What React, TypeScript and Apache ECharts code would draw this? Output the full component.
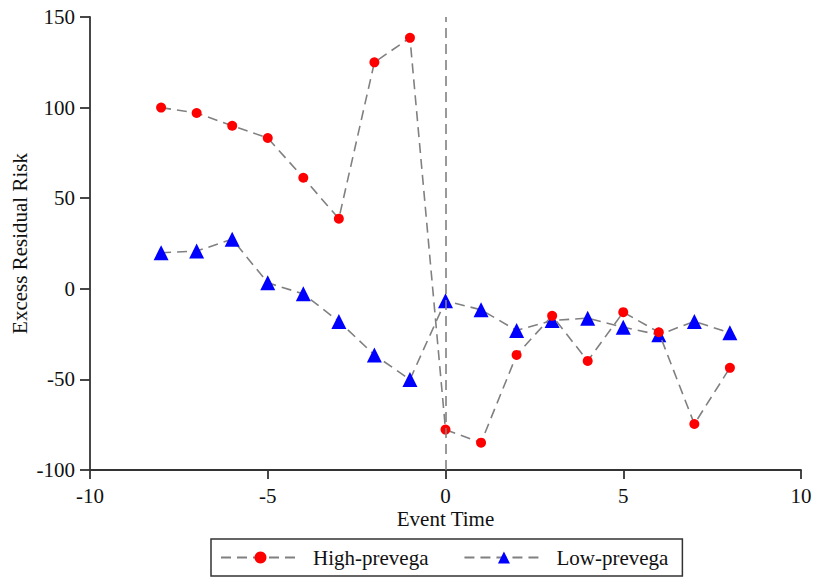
import React, { useEffect, useRef } from "react";
import * as echarts from "echarts";

const eventTimes = [-8, -7, -6, -5, -4, -3, -2, -1, 0, 1, 2, 3, 4, 5, 6, 7, 8];
const highPrevega = [100, 97, 90, 83.2, 61.3, 38.7, 125, 138.5, -77.7, -84.9, -36.5, -14.9, -39.8, -12.9, -24, -74.6, -43.6];
const lowPrevega = [19.9, 20.8, 27.4, 3.3, -2.8, -18, -36.5, -50.1, -6.6, -11.6, -23, -17.5, -16.2, -21.2, -25.4, -18, -24.3];
const seriesNames = ["High-prevega", "Low-prevega"];

const FONT = "Liberation Serif";

export default function App() {
  const ref = useRef<HTMLDivElement>(null);
  useEffect(() => {
    if (!ref.current) return;
    const chart = echarts.init(ref.current, undefined, { renderer: "svg" });
    const dash = [10, 6];
    chart.setOption({
      animation: false,
      textStyle: { fontFamily: FONT },
      grid: { left: 90, right: 13, top: 17, bottom: 111, containLabel: false, outerBoundsMode: "none" },
      xAxis: {
        type: "value",
        min: -10,
        max: 10,
        interval: 5,
        name: "Event Time",
        nameLocation: "middle",
        nameGap: 38,
        nameMoveOverlap: false,
        nameTextStyle: { fontFamily: FONT, fontSize: 21, color: "#111" },
        axisLine: { show: true, onZero: false, lineStyle: { color: "#333", width: 1.8 } },
        axisTick: { show: true, length: 9, lineStyle: { color: "#333", width: 1.8 } },
        axisLabel: { fontFamily: FONT, fontSize: 21, color: "#111", margin: 15 },
        splitLine: { show: false },
      },
      yAxis: {
        type: "value",
        min: -100,
        max: 150,
        interval: 50,
        name: "Excess Residual Risk",
        nameLocation: "middle",
        nameGap: 60,
        nameMoveOverlap: false,
        nameRotate: 90,
        nameTextStyle: { fontFamily: FONT, fontSize: 21, color: "#111" },
        axisLine: { show: true, onZero: false, lineStyle: { color: "#333", width: 1.8 } },
        axisTick: { show: true, length: 10, lineStyle: { color: "#333", width: 1.8 } },
        axisLabel: { fontFamily: FONT, fontSize: 21, color: "#111", margin: 15 },
        splitLine: { show: false },
      },
      legend: {
        left: 211,
        top: 539,
        data: seriesNames,
        borderColor: "#333",
        borderWidth: 1.5,
        borderRadius: 0,
        padding: [8, 14, 8, 9],
        itemWidth: 79,
        itemHeight: 15,
        itemGap: 35,
        textStyle: { fontFamily: FONT, fontSize: 21, color: "#111", padding: [0, 0, 0, 8] },
      },
      series: [
        {
          name: seriesNames[0],
          type: "line",
          data: eventTimes.map((t, i) => [t, highPrevega[i]]),
          symbol: "circle",
          symbolSize: 10,
          itemStyle: { color: "#ff0000", borderWidth: 0 },
          lineStyle: { color: "#808080", width: 1.6, type: dash },
          markLine: {
            silent: true,
            symbol: "none",
            label: { show: false },
            lineStyle: { color: "#808080", width: 1.6, type: dash },
            data: [{ xAxis: 0 }],
          },
          z: 3,
        },
        {
          name: seriesNames[1],
          type: "line",
          data: eventTimes.map((t, i) => [t, lowPrevega[i]]),
          symbol: "triangle",
          symbolSize: 15,
          itemStyle: { color: "#0000ff", borderWidth: 0 },
          lineStyle: { color: "#808080", width: 1.6, type: dash },
          z: 2,
        },
      ],
    });
    return () => chart.dispose();
  }, []);
  return <div ref={ref} style={{ width: 814, height: 581, position: "absolute", left: 0, top: 0 }} />;
}
